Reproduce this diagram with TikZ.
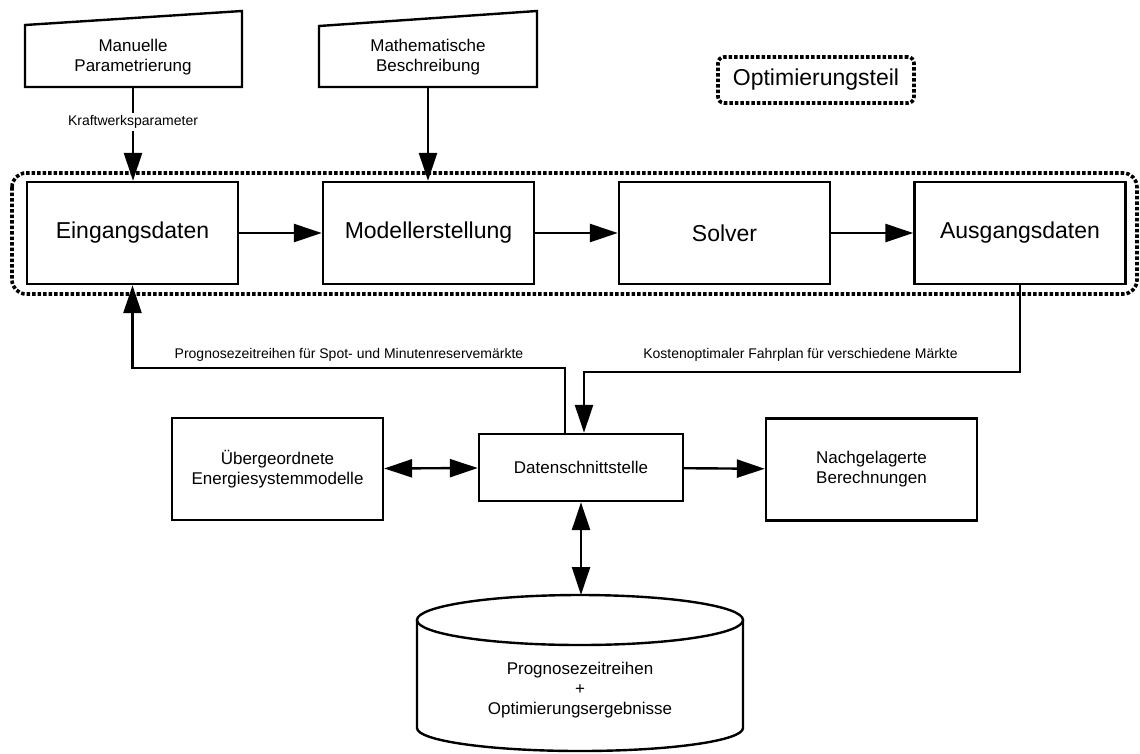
\documentclass[tikz,border=0pt]{standalone}
\usepackage{fontspec}
\setmainfont{Liberation Sans}
\usetikzlibrary{arrows.meta}
\begin{document}
\begin{tikzpicture}[x=1pt,y=-1pt,
  box/.style={draw,line width=2.4pt,minimum width=211pt,minimum height=102pt,font=\fontsize{23}{27}\selectfont,inner sep=0pt},
  mbox/.style={draw,line width=2.4pt,align=center,font=\fontsize{17}{20}\selectfont,inner sep=0pt},
  intext/.style={align=center,font=\fontsize{17}{20}\selectfont,inner sep=0pt,minimum height=60pt},
  lbl/.style={font=\fontsize{14}{17}\selectfont,fill=white,inner sep=2pt},
  arr/.style={line width=2.4pt,-{Triangle[length=28pt,width=18pt]}},
  darr/.style={line width=2.4pt,{Triangle[length=28pt,width=18pt]}-{Triangle[length=28pt,width=18pt]}},
  dotb/.style={line width=3.6pt,dash pattern=on 3.5pt off 2pt},
]
\useasboundingbox (0,0) rectangle (1140,753);

% manual inputs
\node[intext] (mp) at (133,57) {Manuelle\\Parametrierung};
\draw[line width=2.4pt] (25,87) -- (25,25) -- (242,11) -- (242,87) -- cycle;
\node[intext] (mb) at (428,57) {Mathematische\\Beschreibung};
\draw[line width=2.4pt] (319,87) -- (319,26) -- (537,11) -- (537,87) -- cycle;

% optimisation part
\draw[dotb, rounded corners=14pt] (12,173) rectangle (1137,294);
\node[draw, dotb, rounded corners=6pt, minimum width=196pt, minimum height=46pt, font=\fontsize{23}{27}\selectfont] (opt) at (816,80) {Optimierungsteil};

\node[box] (ein) at (132.5,233) {Eingangsdaten};
\node[box] (mod) at (428.5,233) {Modellerstellung};
\node[box] (sol) at (724.5,233) {Solver};
\node[box] (aus) at (1020,233) {Ausgangsdaten};

\draw[arr] (ein) -- (mod);
\draw[arr] (mod) -- (sol);
\draw[arr] (sol) -- (aus);

\draw[arr] (mp.south) -- (mp.south |- ein.north);
\node[lbl] (kw) at (133,122) {Kraftwerksparameter};
\draw[arr] (mb.south) -- (mb.south |- mod.north);

% lower part
\node[mbox, minimum width=211pt, minimum height=102pt] (ueb) at (277.5,469) {Übergeordnete\\Energiesystemmodelle};
\node[mbox, minimum width=204pt, minimum height=67pt] (ds) at (581,467.5) {Datenschnittstelle};
\node[mbox, minimum width=211pt, minimum height=102pt] (nach) at (871.5,469.5) {Nachgelagerte\\Berechnungen};

\draw[arr] ([xshift=-16pt]ds.north) -- ++(0,-65) -| (ein.south);
\draw[arr] (aus.south) -- ++(0,87) -| ([xshift=3pt]ds.north);
\node[lbl] (l1) at (349,355) {Prognosezeitreihen für Spot- und Minutenreservemärkte};
\node[lbl] (l2) at (800.5,355) {Kostenoptimaler Fahrplan für verschiedene Märkte};

\draw[darr] (ueb) -- (ds);
\draw[arr] (ds) -- (nach);

% database
\node[align=center,font=\fontsize{17}{20}\selectfont,inner sep=0pt] (db) at (580,690) {Prognosezeitreihen\\+\\Optimierungsergebnisse};
\draw[line width=2.4pt] (417,620) -- (417,728) arc[start angle=180,end angle=0,x radius=163,y radius=23] -- (743,620);
\draw[line width=2.4pt,fill=white] (580,620) ellipse [x radius=163, y radius=25];
\coordinate (dbtop) at (581,595);
\draw[darr] (ds.south) -- (dbtop);
\end{tikzpicture}
\end{document}
